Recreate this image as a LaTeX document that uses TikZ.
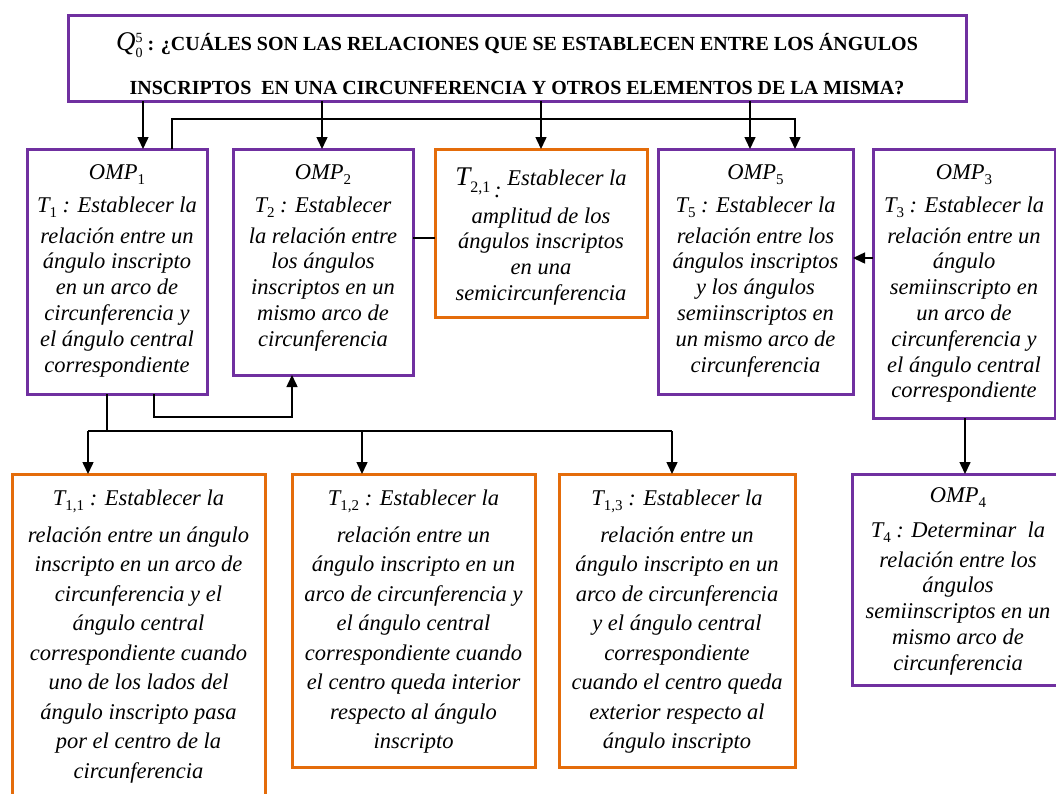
\documentclass[tikz,border=0pt]{standalone}
\usepackage{fontspec}
\setmainfont{Liberation Serif}
\usetikzlibrary{arrows.meta}
\definecolor{ompPurple}{HTML}{7030A0}
\definecolor{tOrange}{HTML}{E46C0A}
\newcommand\sbs[1]{\raisebox{-5pt}{\fontsize{15}{15}\selectfont\upshape #1}}
% box text: width, height, content (upper boxes)
\newcommand\bxt[3]{\parbox[c][#2][t]{#1}{\centering\fontsize{22.5}{25.8}\selectfont\itshape\lineskiplimit=-1000pt\relax #3}}
% box text: bottom boxes (wider line spacing)
\newcommand\bxb[3]{\parbox[c][#2][t]{#1}{\centering\fontsize{22.5}{29.5}\selectfont\itshape\lineskiplimit=-1000pt\relax #3}}
\newcommand\qlabel{{\fontsize{27}{27}\selectfont\mdseries\itshape Q}\raisebox{-1pt}{\lineskiplimit=0pt\relax\fontsize{14}{15}\selectfont\mdseries\begin{tabular}{@{}l@{}}5\\0\end{tabular}}}
\tikzset{
  purplebox/.style={draw=ompPurple, line width=3pt, inner sep=0pt, outer sep=0pt, anchor=north west},
  orangebox/.style={draw=tOrange, line width=3pt, inner sep=0pt, outer sep=0pt, anchor=north west},
  arr/.style={draw=black, line width=1.5pt, -{Triangle[length=12pt,width=11pt]}},
  plainline/.style={draw=black, line width=1.5pt},
}
\begin{document}
\begin{tikzpicture}[x=1pt,y=-1pt]
\useasboundingbox (0,0) rectangle (1056,793);
\clip (0,0) rectangle (1056,793);
\fill[white] (0,0) rectangle (1056,793);

% title
\node[purplebox] (Q) at (68,15) {\parbox[c][86pt][t]{898pt}{\centering\bfseries\fontsize{20}{44}\selectfont\lineskiplimit=-1000pt\relax\rule{0pt}{35pt}\qlabel\ : ¿CUÁLES SON LAS RELACIONES QUE SE ESTABLECEN ENTRE LOS ÁNGULOS\\ INSCRIPTOS\ \ EN UNA CIRCUNFERENCIA Y OTROS ELEMENTOS DE LA MISMA?}};

% upper row
\node[purplebox] (OMP1) at (27,149) {\bxt{180pt}{245pt}{\rule{0pt}{30pt}OMP\sbs{1}\\[7.2pt] T\sbs{1} : Establecer la\\[5.2pt] relación entre un\\ ángulo inscripto\\ en un arco de\\ circunferencia y\\ el ángulo central\\ correspondiente}};

\node[purplebox] (OMP2) at (233,149) {\bxt{180pt}{226pt}{\rule{0pt}{30pt}OMP\sbs{2}\\[7.2pt] T\sbs{2} : Establecer\\[5.2pt] la relación entre\\ los ángulos\\ inscriptos en un\\ mismo arco de\\ circunferencia}};

\node[orangebox] (T21) at (435,149) {\bxt{212pt}{168pt}{\rule{0pt}{36pt}{\fontsize{27}{27}\selectfont T}\raisebox{-7pt}{\fontsize{16}{16}\selectfont\upshape 2,1}\raisebox{-12pt}{\,:}\ Establecer la\\[12.2pt] amplitud de los\\ ángulos inscriptos\\ en una\\ semicircunferencia}};

\node[purplebox] (OMP5) at (658,149) {\bxt{195pt}{245pt}{\rule{0pt}{30pt}OMP\sbs{5}\\[7.2pt] T\sbs{5} : Establecer la\\[5.2pt] relación entre los\\ ángulos inscriptos\\ y los ángulos\\ semiinscriptos en\\ un mismo arco de\\ circunferencia}};

\node[purplebox] (OMP3) at (873,149) {\bxt{182pt}{269pt}{\rule{0pt}{30pt}OMP\sbs{3}\\[7.2pt] T\sbs{3} : Establecer la\\[5.2pt] relación entre un\\ ángulo\\ semiinscripto en\\ un arco de\\ circunferencia y\\ el ángulo central\\ correspondiente}};

% lower row
\node[purplebox] (OMP4) at (852,474) {\bxt{212pt}{211pt}{\rule{0pt}{28pt}OMP\sbs{4}\\[9.2pt] T\sbs{4} : Determinar\ \ la\\[4.2pt] relación entre los\\ ángulos\\ semiinscriptos en un\\ mismo arco de\\ circunferencia}};

\node[orangebox] (T11) at (12,474) {\bxb{253pt}{330pt}{\rule{0pt}{31pt}T\sbs{1,1} : Establecer la\\[7.5pt] relación entre un ángulo\\ inscripto en un arco de\\ circunferencia y el\\ ángulo central\\ correspondiente cuando\\ uno de los lados del\\ ángulo inscripto pasa\\ por el centro de la\\ circunferencia}};

\node[orangebox] (T12) at (292,474) {\bxb{243pt}{293pt}{\rule{0pt}{31pt}T\sbs{1,2} : Establecer la\\[7.5pt] relación entre un\\ ángulo inscripto en un\\ arco de circunferencia y\\ el ángulo central\\ correspondiente cuando\\ el centro queda interior\\ respecto al ángulo\\ inscripto}};

\node[orangebox] (T13) at (559,474) {\bxb{236pt}{293pt}{\rule{0pt}{31pt}T\sbs{1,3} : Establecer la\\[7.5pt] relación entre un\\ ángulo inscripto en un\\ arco de circunferencia\\ y el ángulo central\\ correspondiente\\ cuando el centro queda\\ exterior respecto al\\ ángulo inscripto}};

% helper coordinates
\coordinate (xa) at (143,0);
\coordinate (xb) at (322,0);
\coordinate (xc) at (541,0);
\coordinate (xd) at (750,0);
\coordinate (ja) at (172,119);
\coordinate (jb) at (795,119);
\coordinate (yc) at (0,238);
\coordinate (yd) at (0,258);
\coordinate (xe) at (965,0);
\coordinate (ka) at (154,417);
\coordinate (kb) at (292,417);
\coordinate (la) at (107,431);
\coordinate (lb) at (88,431);
\coordinate (lc) at (362,431);
\coordinate (ld) at (672,431);

% connectors
\draw[arr] (Q.south -| xa) -- (OMP1.north -| xa);
\draw[arr] (Q.south -| xb) -- (OMP2.north -| xb);
\draw[arr] (Q.south -| xc) -- (T21.north -| xc);
\draw[arr] (Q.south -| xd) -- (OMP5.north -| xd);
\draw[arr] (OMP1.north -| ja) -- (ja) -- (jb) -- (OMP5.north -| jb);
\draw[plainline] (OMP2.east |- yc) -- (T21.west |- yc);
\draw[arr] (OMP3.west |- yd) -- (OMP5.east |- yd);
\draw[arr] (OMP3.south -| xe) -- (OMP4.north -| xe);
\draw[arr] (OMP1.south -| ka) -- (ka) -- (kb) -- (OMP2.south -| kb);
\draw[plainline] (OMP1.south -| la) -- (la);
\draw[plainline] (lb) -- (ld);
\draw[arr] (lb) -- (T11.north -| lb);
\draw[arr] (lc) -- (T12.north -| lc);
\draw[arr] (ld) -- (T13.north -| ld);
\end{tikzpicture}
\end{document}
